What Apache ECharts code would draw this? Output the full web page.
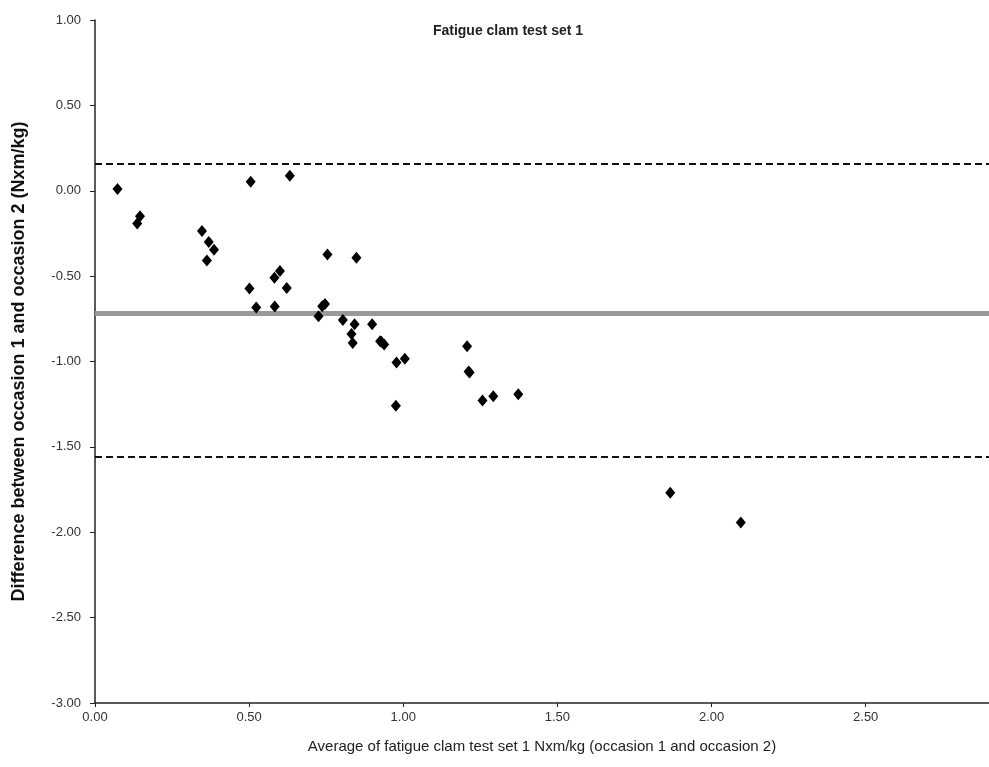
<!DOCTYPE html>
<html>
<head>
<meta charset="utf-8">
<script src="https://cdn.jsdelivr.net/npm/echarts@6/dist/echarts.min.js"></script>
<style>
html,body{margin:0;padding:0;background:#fff;}
#c{width:989px;height:767px;}
</style>
</head>
<body>
<div id="c"></div>
<script>
const averages = [0.073,0.146,0.137,0.347,0.369,0.386,0.363,0.505,0.501,0.582,0.600,0.622,0.632,0.754,0.848,0.523,0.583,0.737,0.746,0.725,0.804,0.842,0.832,0.836,0.899,0.925,0.929,0.938,0.978,1.005,0.976,1.207,1.215,1.212,1.257,1.292,1.373,1.866,2.095];
const differences = [0.01,-0.149,-0.192,-0.235,-0.300,-0.345,-0.408,0.053,-0.573,-0.510,-0.470,-0.570,0.088,-0.373,-0.392,-0.684,-0.678,-0.676,-0.663,-0.735,-0.757,-0.782,-0.839,-0.892,-0.782,-0.882,-0.884,-0.900,-1.006,-0.984,-1.259,-0.910,-1.065,-1.058,-1.229,-1.204,-1.192,-1.769,-1.943];
const meanDiff = -0.72;
const upperLoA = 0.16;
const lowerLoA = -1.565;
const yTicks = [1.0,0.5,0.0,-0.5,-1.0,-1.5,-2.0,-2.5,-3.0];
const xTicks = [0,0.5,1.0,1.5,2.0,2.5];

const points = averages.map((x,i)=>[x,differences[i]]);
const narrow = '"Liberation Sans Narrow", "Arial Narrow", "Liberation Sans", Arial, sans-serif';
const chart = echarts.init(document.getElementById('c'), null, {renderer:'canvas'});
chart.setOption({
  animation:false,
  backgroundColor:'#fff',
  title:{
    text:'Fatigue clam test set 1',
    left:503, top:19, textAlign:'center',
    textStyle:{fontFamily:'"Liberation Sans", Arial, sans-serif', fontSize:14, fontWeight:'bold', color:'#222'}
  },
  grid:{left:95, right:0, top:20, bottom:64, containLabel:false},
  xAxis:{
    type:'value', min:0, max:2.9, interval:0.5,
    splitLine:{show:false},
    axisLine:{onZero:false, lineStyle:{color:'#222', width:1.5}},
    axisTick:{show:true, length:4, lineStyle:{color:'#222'}},
    axisLabel:{color:'#333', fontFamily:narrow, fontSize:13, margin:8,
      formatter:v=> xTicks.some(t=>Math.abs(t-v)<1e-9) ? v.toFixed(2) : '',
      showMaxLabel:false},
    name:'Average of fatigue clam test set 1 Nxm/kg (occasion 1 and occasion 2)',
    nameLocation:'middle', nameGap:36,
    nameTextStyle:{color:'#222', fontFamily:narrow, fontSize:15}
  },
  yAxis:{
    type:'value', min:-3, max:1, interval:0.5,
    splitLine:{show:false},
    axisLine:{onZero:false, lineStyle:{color:'#222', width:1.5}},
    axisTick:{show:true, inside:false, length:5, lineStyle:{color:'#222'}},
    axisLabel:{color:'#333', fontFamily:narrow, fontSize:13, margin:14,
      formatter:v=>v.toFixed(2)},
    name:'Difference between occasion 1 and occasion 2 (Nxm/kg)',
    nameLocation:'middle', nameGap:67, nameRotate:90,
    nameTextStyle:{color:'#111', fontFamily:narrow, fontSize:18, fontWeight:'bold'}
  },
  series:[
    {
      type:'scatter',
      symbol:'diamond',
      symbolSize:[10,12],
      itemStyle:{color:'#000', opacity:1},
      data:points,
      z:5,
      markLine:{
        silent:true,
        symbol:['none','none'],
        label:{show:false},
        data:[
          {yAxis:meanDiff, lineStyle:{color:'#999', width:5, type:'solid', opacity:1}},
          {yAxis:upperLoA, lineStyle:{color:'#111', width:2, type:[7,4], opacity:1}},
          {yAxis:lowerLoA, lineStyle:{color:'#111', width:2, type:[7,4], opacity:1}}
        ]
      }
    }
  ]
});
</script>
</body>
</html>
